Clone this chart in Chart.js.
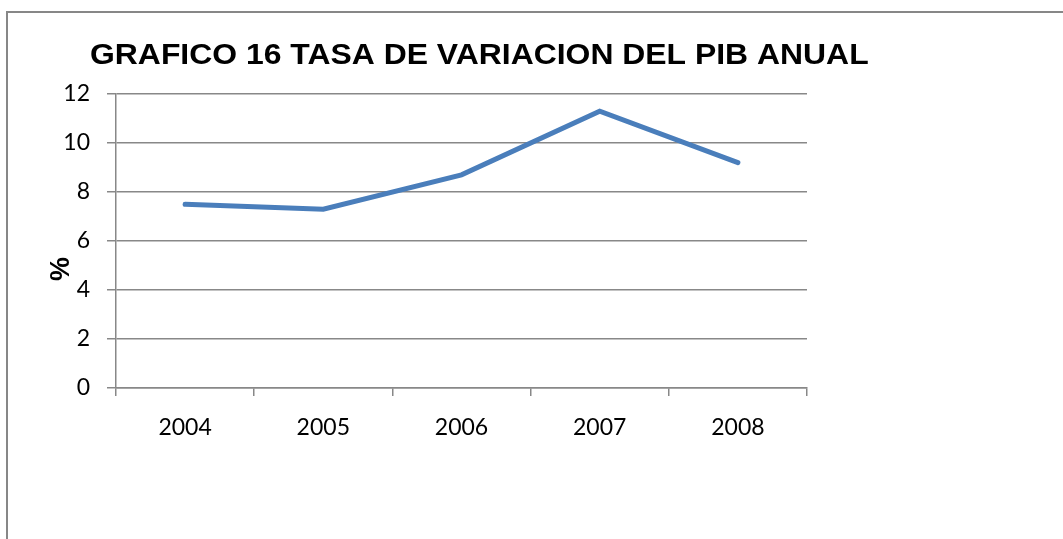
<!DOCTYPE html>
<html lang="es">
<head>
    <meta charset="UTF-8">
    <title>Tasa de variación del PIB anual</title>
    <script src="https://cdn.jsdelivr.net/npm/chart.js"></script>
    <style>
        body { margin: 0; background: #fff; overflow: hidden; }
        #marco {
            position: absolute; left: 6px; top: 11px;
            width: 1200px; height: 700px;
            border-left: 2px solid #878787; border-top: 2px solid #878787;
        }
        #caja { position: absolute; left: 0; top: 0; width: 1063px; height: 539px; }
    </style>
</head>
<body>
    <div id="marco"></div>
    <div id="caja"><canvas id="pibChart"></canvas></div>

    <script>
        // Datos
        const anios = ['2004', '2005', '2006', '2007', '2008'];
        const tasaPib = [7.5, 7.3, 8.7, 11.3, 9.2];
        const ticksY = [0, 2, 4, 6, 8, 10, 12];

        const titulo = 'GRAFICO 16 TASA DE VARIACION DEL PIB ANUAL';

        // Título y rótulo del eje dibujados a mano (posición como en Excel)
        const textosExcel = {
            id: 'textosExcel',
            afterDraw(chart) {
                const ctx = chart.ctx;
                const area = chart.chartArea;
                ctx.save();
                ctx.fillStyle = '#000';
                ctx.font = 'bold 29px "Liberation Sans", Arial, sans-serif';
                ctx.textBaseline = 'alphabetic';
                ctx.textAlign = 'left';
                ctx.translate(area.left - 26, area.top - 30);
                ctx.scale(1.1, 1); // el original está algo estirado a lo ancho
                ctx.fillText(titulo, 0, 0);
                ctx.restore();

                ctx.save();
                ctx.fillStyle = '#000';
                ctx.translate(62, (area.top + area.bottom) / 2 + 28);
                ctx.rotate(-Math.PI / 2);
                ctx.font = 'bold 27px "Liberation Sans", Arial, sans-serif';
                ctx.textAlign = 'center';
                ctx.textBaseline = 'middle';
                ctx.fillText('%', 0, 0);
                ctx.restore();
            }
        };

        const config = {
            type: 'line',
            data: {
                labels: anios,
                datasets: [{
                    label: 'PIB',
                    data: tasaPib,
                    borderColor: '#4A7EBB',
                    borderWidth: 5,
                    borderCapStyle: 'round',
                    borderJoinStyle: 'miter',
                    tension: 0,
                    pointRadius: 0,
                    fill: false
                }]
            },
            options: {
                responsive: true,
                maintainAspectRatio: false,
                animation: false,
                layout: { padding: { left: 0, top: 94, right: 256, bottom: 91 } },
                plugins: {
                    legend: { display: false },
                    title: { display: false },
                    tooltip: { enabled: false }
                },
                scales: {
                    x: {
                        offset: true,
                        grid: {
                            offset: true,
                            drawOnChartArea: false,
                            tickLength: 8,
                            color: '#888',
                            lineWidth: 1.5
                        },
                        border: { color: '#888', width: 1.5 },
                        ticks: {
                            color: '#000',
                            padding: 18,
                            maxRotation: 0,
                            font: { family: 'Lato', size: 23 }
                        },
                        afterFit(scale) { scale.height = 60; }
                    },
                    y: {
                        min: 0,
                        max: 12,
                        afterBuildTicks(scale) {
                            scale.ticks = ticksY.map(v => ({ value: v }));
                        },
                        grid: { color: '#888', lineWidth: 1.5, tickLength: 9 },
                        border: { color: '#888', width: 1.5 },
                        ticks: {
                            color: '#000',
                            padding: 17,
                            font: { family: 'Lato', size: 23 }
                        },
                        afterFit(scale) { scale.width = 116; }
                    }
                }
            },
            plugins: [textosExcel]
        };

        const pibChart = new Chart(document.getElementById('pibChart'), config);
    </script>
</body>
</html>
